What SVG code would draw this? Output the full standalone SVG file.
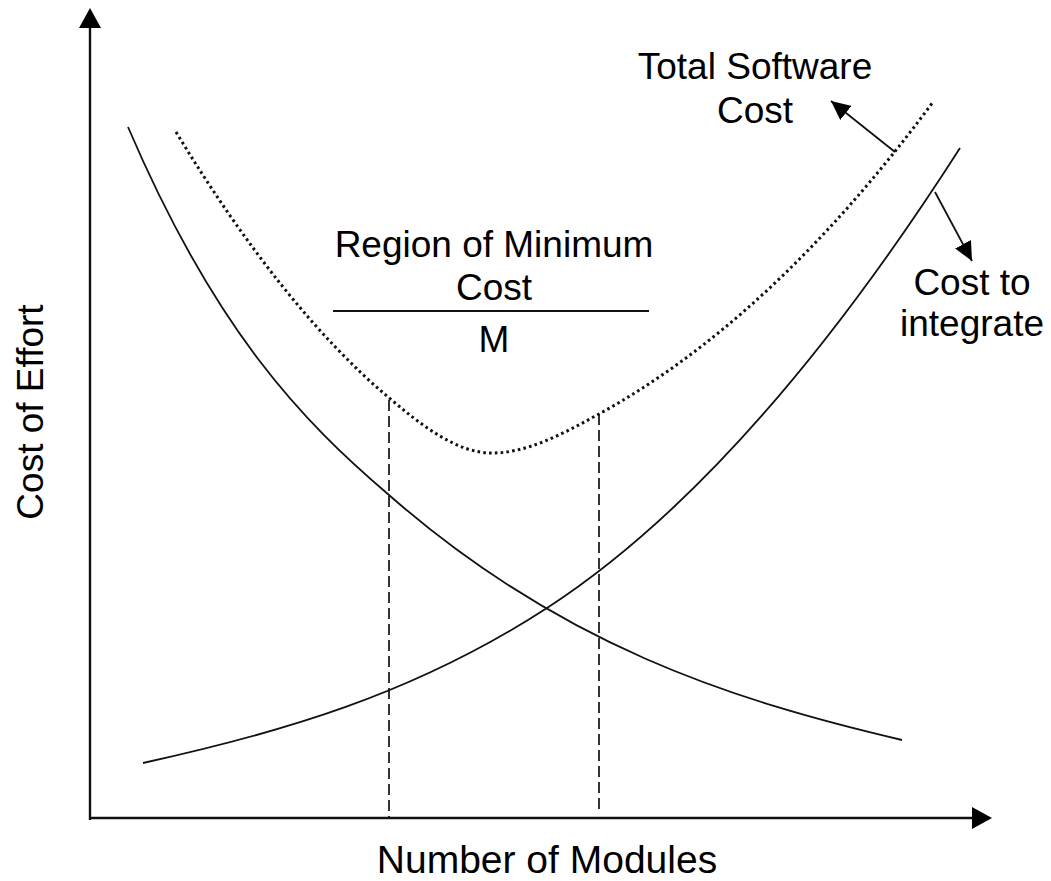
<svg xmlns="http://www.w3.org/2000/svg" width="1051" height="881" viewBox="0 0 1051 881">
<style>
.t{font-family:"Liberation Sans",Arial,sans-serif;font-size:37px;fill:#000;text-anchor:middle}
.c{fill:none;stroke:#111;stroke-width:1.8}
.dot{fill:none;stroke:#111;stroke-width:3;stroke-dasharray:2.6 3.2}
.dash{fill:none;stroke:#111;stroke-width:1.7;stroke-dasharray:11 5}
.ax{fill:none;stroke:#111;stroke-width:2.4}
</style>
<defs>
<marker id="ah" markerWidth="19" markerHeight="18" refX="19" refY="9" orient="auto" markerUnits="userSpaceOnUse">
<path d="M0,0 L19,9 L0,18 Z" fill="#000"/>
</marker>
</defs>
<rect width="1051" height="881" fill="#fff"/>
<g id="axes">
<line class="ax" x1="90" y1="820" x2="90" y2="24"/>
<polygon points="90,8 79,28 101,28" fill="#000"/>
<line class="ax" x1="89" y1="818" x2="975" y2="818"/>
<polygon points="992,818 972,807 972,829" fill="#000"/>
</g>
<g id="region-lines">
<line class="dash" x1="389" y1="400" x2="389" y2="818"/>
<line class="dash" x1="599" y1="414" x2="599" y2="812"/>
<line class="c" x1="333" y1="311" x2="649" y2="311"/>
</g>
<g id="curves">
<path id="cost-per-module" class="c" d="M128,127 C215,330.4 302,421 389,495 C560,645 731,700 902,740"/>
<path id="cost-to-integrate" class="c" d="M143,763 C277.7,733.4 412.3,695.5 547,608 C684.7,518.5 822.3,363 960,148"/>
<path id="total-cost" class="dot" d="M176,132 C246.7,248.6 317.3,336.9 388,397 C422.7,426.5 457.3,453 492,453 C527.7,453 563.3,433.6 599,414 C710.3,352.8 821.7,252.3 933,102"/>
</g>
<g id="connectors">
<line class="c" x1="895" y1="152" x2="831" y2="101" marker-end="url(#ah)"/>
<line class="c" x1="935" y1="192" x2="972" y2="261" marker-end="url(#ah)"/>
</g>
<g id="labels">
<text class="t" x="755" y="79">Total Software</text>
<text class="t" x="755" y="123">Cost</text>
<text class="t" x="972" y="295">Cost to</text>
<text class="t" x="972" y="336">integrate</text>
<text class="t" x="494" y="257">Region of Minimum</text>
<text class="t" x="494" y="300">Cost</text>
<text class="t" x="494" y="352">M</text>
<text class="t" x="547" y="873" style="font-size:39px">Number of Modules</text>
<text class="t" transform="translate(43,412) rotate(-90)" x="0" y="0">Cost of Effort</text>
</g>
</svg>
